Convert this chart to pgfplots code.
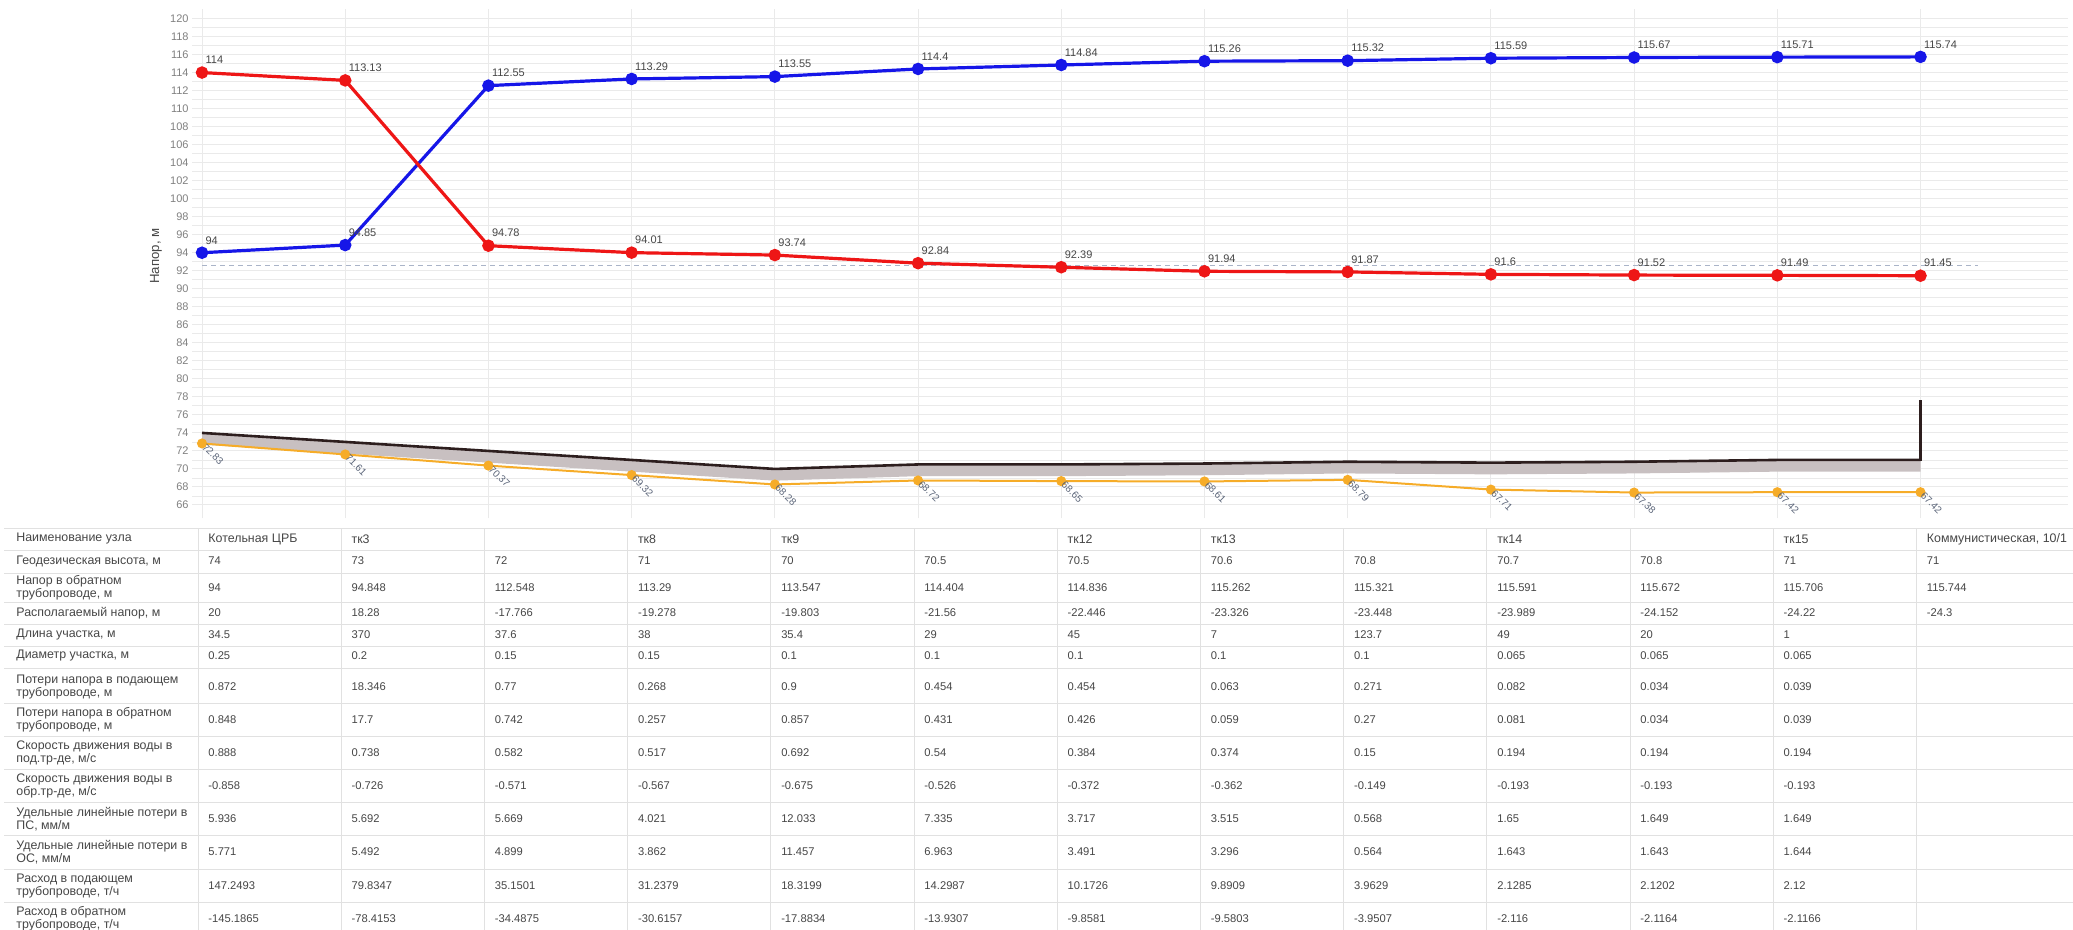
\documentclass[border=0pt]{standalone}
\usepackage{fontspec}
\setmainfont{Liberation Sans}
\usepackage{pgfplots}
\pgfplotsset{compat=1.18}

\definecolor{supply}{RGB}{238,22,22}
\definecolor{ret}{RGB}{22,22,232}
\definecolor{pipe}{RGB}{246,172,40}
\definecolor{ground}{RGB}{45,30,30}
\definecolor{soil}{RGB}{200,192,193}
\definecolor{gridc}{RGB}{234,234,234}
\definecolor{txt}{RGB}{70,70,70}
\definecolor{lbl}{RGB}{90,100,120}
\definecolor{statc}{RGB}{170,180,200}
\definecolor{sepc}{RGB}{225,225,225}

% table helpers: #1 = row centre (pt from top)
\tikzset{
  cell/.style={anchor=west, inner sep=0pt, font=\fontsize{5.6}{6.6}\selectfont, text=txt},
  rowlbl/.style={anchor=west, align=left, inner sep=0pt, font=\fontsize{6.2}{6.6}\selectfont, text=txt},
}
\newcommand\trow[2]{%
  \foreach \v [count=\c from 0] in {#2}{%
    \node[cell] at ({101.01pt+71.603pt*\c+3pt},{-#1pt}) {\v};}}
\newcommand\rlab[2]{\node[rowlbl] at (8pt,{-#1pt}) {#2};}

\begin{document}
\begin{tikzpicture}
\path[use as bounding box] (0,0) rectangle (1036.5pt,-465pt);

\begin{axis}[
  at={(96pt,-4.75pt)}, anchor=north west, scale only axis,
  width=938pt, height=254.5pt,
  xmin=-0.07, xmax=13.03, ymin=64.5, ymax=121,
  xtick={0,...,12}, xticklabels={},
  ytick={66,68,...,120}, minor y tick num=1,
  grid=both,
  major grid style={gridc, line width=0.5pt},
  minor grid style={gridc, line width=0.4pt},
  axis line style={draw=none}, tick style={draw=none},
  yticklabel style={font=\fontsize{5.5}{6}\selectfont, text=gray, inner sep=1.5pt},
  /pgf/number format/assume math mode=true,
  /pgf/number format/fixed, /pgf/number format/precision=2,
  clip=false,
]
% ground band
\addplot[draw=none, fill=soil, forget plot] coordinates {
  (0,74) (1,73) (2,72) (3,71) (4,70) (5,70.5) (6,70.5) (7,70.6) (8,70.8)
  (9,70.7) (10,70.8) (11,71) (12,71)
  (12,69.7) (11,69.7) (10,69.5) (9,69.4) (8,69.5) (7,69.3) (6,69.2)
  (5,69.2) (4,68.7) (3,69.7) (2,70.7) (1,71.7) (0,72.7)};
\addplot[ground, line width=1.3pt, forget plot] coordinates {
  (0,74) (1,73) (2,72) (3,71) (4,70) (5,70.5) (6,70.5) (7,70.6) (8,70.8)
  (9,70.7) (10,70.8) (11,71) (12,71)};
\addplot[ground, line width=1.6pt, forget plot] coordinates {(12,70.9) (12,77.7)};

% pipe level
\addplot[pipe, line width=1pt, mark=*, mark size=2pt,
  nodes near coords,
  every node near coord/.append style={anchor=west, rotate=-45, inner sep=1pt,
    font=\fontsize{5}{6}\selectfont, text=lbl}] coordinates {
  (0,72.83) (1,71.61) (2,70.37) (3,69.32) (4,68.28) (5,68.72) (6,68.65)
  (7,68.61) (8,68.79) (9,67.71) (10,67.38) (11,67.42) (12,67.42)};

% static level
\addplot[statc, line width=0.7pt, dash pattern=on 2.5pt off 2pt] coordinates {(0,92.6) (12.4,92.6)};

% return line
\addplot[ret, line width=1.6pt, mark=*, mark size=2.3pt,
  nodes near coords,
  every node near coord/.append style={anchor=south west, xshift=0.5pt, yshift=3pt,
    inner sep=0.5pt, font=\fontsize{5.5}{6}\selectfont, text=txt}] coordinates {
  (0,94) (1,94.85) (2,112.55) (3,113.29) (4,113.55) (5,114.4) (6,114.84)
  (7,115.26) (8,115.32) (9,115.59) (10,115.67) (11,115.71) (12,115.74)};

% supply line
\addplot[supply, line width=1.6pt, mark=*, mark size=2.3pt,
  nodes near coords,
  every node near coord/.append style={anchor=south west, xshift=0.5pt, yshift=3pt,
    inner sep=0.5pt, font=\fontsize{5.5}{6}\selectfont, text=txt}] coordinates {
  (0,114) (1,113.13) (2,94.78) (3,94.01) (4,93.74) (5,92.84) (6,92.39)
  (7,91.94) (8,91.87) (9,91.6) (10,91.52) (11,91.49) (12,91.45)};
\end{axis}

\node[rotate=90, font=\fontsize{6.6}{7}\selectfont, text=txt] at (78pt,-128pt) {Напор, м};

% table grid
\foreach \y in {264,275,286.5,301,312,323,334,351.5,368,384.5,401,417.5,434.5,451}
  \draw[sepc, line width=0.4pt] (2pt,-\y pt) -- (1036.5pt,-\y pt);
\foreach \i in {0,...,12}
  \draw[sepc, line width=0.4pt] ({101.01pt+71.603pt*\i-2pt},-264pt) -- ++(0,-205pt);

\rlab{269.5}{Наименование узла}
\rlab{280.5}{Геодезическая высота, м}
\rlab{294}{Напор в обратном\\трубопроводе, м}
\rlab{306.5}{Располагаемый напор, м}
\rlab{317.5}{Длина участка, м}
\rlab{328}{Диаметр участка, м}
\rlab{343.5}{Потери напора в подающем\\трубопроводе, м}
\rlab{360}{Потери напора в обратном\\трубопроводе, м}
\rlab{376.5}{Скорость движения воды в\\под.тр-де, м/с}
\rlab{393}{Скорость движения воды в\\обр.тр-де, м/с}
\rlab{409.5}{Удельные линейные потери в\\ПС, мм/м}
\rlab{426}{Удельные линейные потери в\\ОС, мм/м}
\rlab{443}{Расход в подающем\\трубопроводе, т/ч}
\rlab{459.5}{Расход в обратном\\трубопроводе, т/ч}

\begin{scope}[cell/.append style={font=\fontsize{6.2}{7}\selectfont}]
\trow{269.5}{Котельная ЦРБ,тк3,,тк8,тк9,,тк12,тк13,,тк14,,тк15,{Коммунистическая, 10/1}}
\end{scope}
\trow{280.5}{74,73,72,71,70,70.5,70.5,70.6,70.8,70.7,70.8,71,71}
\trow{294}{94,94.848,112.548,113.29,113.547,114.404,114.836,115.262,115.321,115.591,115.672,115.706,115.744}
\trow{306.5}{20,18.28,-17.766,-19.278,-19.803,-21.56,-22.446,-23.326,-23.448,-23.989,-24.152,-24.22,-24.3}
\trow{317.5}{34.5,370,37.6,38,35.4,29,45,7,123.7,49,20,1}
\trow{328}{0.25,0.2,0.15,0.15,0.1,0.1,0.1,0.1,0.1,0.065,0.065,0.065}
\trow{343.5}{0.872,18.346,0.77,0.268,0.9,0.454,0.454,0.063,0.271,0.082,0.034,0.039}
\trow{360}{0.848,17.7,0.742,0.257,0.857,0.431,0.426,0.059,0.27,0.081,0.034,0.039}
\trow{376.5}{0.888,0.738,0.582,0.517,0.692,0.54,0.384,0.374,0.15,0.194,0.194,0.194}
\trow{393}{-0.858,-0.726,-0.571,-0.567,-0.675,-0.526,-0.372,-0.362,-0.149,-0.193,-0.193,-0.193}
\trow{409.5}{5.936,5.692,5.669,4.021,12.033,7.335,3.717,3.515,0.568,1.65,1.649,1.649}
\trow{426}{5.771,5.492,4.899,3.862,11.457,6.963,3.491,3.296,0.564,1.643,1.643,1.644}
\trow{443}{147.2493,79.8347,35.1501,31.2379,18.3199,14.2987,10.1726,9.8909,3.9629,2.1285,2.1202,2.12}
\trow{459.5}{-145.1865,-78.4153,-34.4875,-30.6157,-17.8834,-13.9307,-9.8581,-9.5803,-3.9507,-2.116,-2.1164,-2.1166}
\end{tikzpicture}
\end{document}
